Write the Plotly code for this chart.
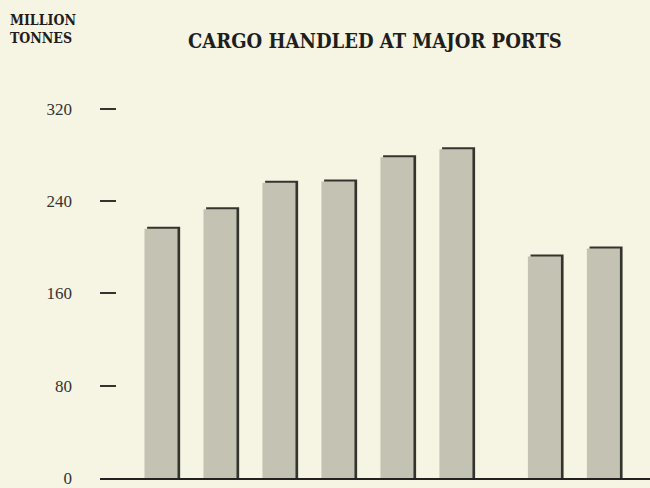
import plotly.graph_objects as go

# bar positions (gap before the last two bars) and cargo in million tonnes
positions = [1, 2, 3, 4, 5, 6, 7.5, 8.5]
cargo_mt = [216, 233, 256, 257, 278, 285, 192, 199]
y_ticks = [0, 80, 160, 240, 320]

BAR_W = 0.56
bar_color = '#c4c2b2'
shadow_color = '#34342f'
page_color = '#f6f4e2'

fig = go.Figure()

# dark "3D" shadow on top and right edge of each bar
fig.add_trace(go.Bar(
    x=positions,
    y=[v + 1.8 for v in cargo_mt],
    width=BAR_W,
    offset=-BAR_W / 2 + 0.045,
    marker=dict(color=shadow_color, line=dict(width=0)),
    hoverinfo='skip',
    showlegend=False,
))

fig.add_trace(go.Bar(
    x=positions,
    y=cargo_mt,
    width=BAR_W,
    offset=-BAR_W / 2,
    marker=dict(color=bar_color, line=dict(width=0)),
    hovertemplate='%{y} million tonnes<extra></extra>',
    showlegend=False,
))

fig.update_layout(
    width=650,
    height=488,
    barmode='overlay',
    margin=dict(l=100, r=0, t=100, b=7),
    paper_bgcolor=page_color,
    plot_bgcolor=page_color,
    font=dict(family='Liberation Serif', color='#2a2a2a'),
    xaxis=dict(
        range=[-0.034, 9.29],
        showticklabels=False,
        ticks='',
        showgrid=False,
        zeroline=False,
        showline=True,
        linecolor='#222222',
        linewidth=2,
        fixedrange=True,
    ),
    yaxis=dict(
        range=[0, 327.7],
        tickvals=y_ticks,
        ticks='inside',
        ticklen=16,
        tickwidth=1.5,
        tickcolor='#333333',
        ticklabelstandoff=27,
        ticklabeloverflow='allow',
        tickfont=dict(size=17, color='#333333'),
        showgrid=False,
        zeroline=False,
        showline=False,
        fixedrange=True,
    ),
    annotations=[
        dict(
            text='<b>CARGO HANDLED AT MAJOR PORTS</b>',
            xref='paper', yref='paper', x=0.5, y=1,
            xanchor='center', yanchor='bottom', yshift=45,
            showarrow=False,
            font=dict(family='DejaVu Serif Condensed', size=20, color='#1e1e1e'),
        ),
        dict(
            text='<b>MILLION<br>TONNES</b>',
            xref='paper', yref='paper', x=-0.167, y=1,
            xanchor='left', yanchor='bottom', yshift=52,
            align='left',
            showarrow=False,
            font=dict(family='DejaVu Serif Condensed', size=14, color='#1e1e1e'),
        ),
    ],
)

fig.write_html(
    'out.html',
    config={'displayModeBar': False},
    post_script="document.body.style.margin='0';document.body.style.overflow='hidden';",
)
